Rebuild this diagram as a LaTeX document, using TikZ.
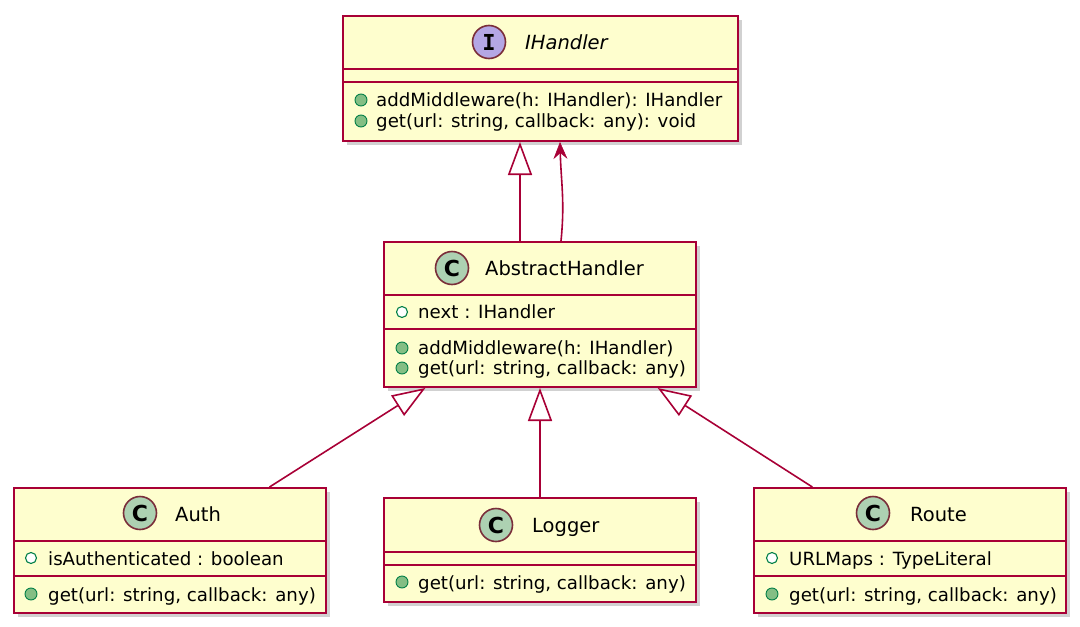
\documentclass[tikz,border=0pt]{standalone}
\usepackage{fontspec}
\setmainfont{DejaVu Sans}
\newfontfamily\spotfont{DejaVu Sans Mono}
\usetikzlibrary{arrows.meta,shadows,calc}
\definecolor{boxfill}{HTML}{FEFECE}
\definecolor{boxline}{HTML}{A80036}
\definecolor{spotline}{HTML}{7A2E3A}
\definecolor{cspotfill}{HTML}{ADD1B2}
\definecolor{ispotfill}{HTML}{B4A7E5}
\definecolor{pubfill}{HTML}{84BE84}
\definecolor{publine}{HTML}{038048}
\begin{document}
\begin{tikzpicture}[x=1pt,y=-1pt,
 umlbox/.style={draw=boxline, line width=2pt, fill=boxfill, inner sep=0pt, anchor=north west,
   drop shadow={shadow xshift=4pt, shadow yshift=-4pt, opacity=0.3, fill=black!60}},
 divider/.style={draw=boxline, line width=1.8pt},
 spot/.style={circle, draw=spotline, line width=1.6pt, minimum size=33pt, inner sep=0pt,
   font=\bfseries\fontsize{22}{22}\selectfont},
 ispot/.style={spot, font=\spotfont\bfseries\fontsize{22}{22}\selectfont},
 title/.style={anchor=base west, inner sep=0pt, font=\fontsize{19.5}{22}\selectfont},
 member/.style={anchor=base west, inner sep=0pt, font=\fontsize{18.2}{21}\selectfont},
 pub/.style={circle, draw=publine, fill=pubfill, line width=0.9pt, minimum size=12pt, inner sep=0pt},
 fld/.style={circle, draw=publine, fill=white, line width=1.1pt, minimum size=11pt, inner sep=0pt},
 inh/.style={draw=boxline, line width=1.6pt, -{Triangle[length=33pt,width=24pt,fill=white,line width=1.6pt]}},
 assoc/.style={draw=boxline, line width=1.6pt, -{Stealth[length=17pt,width=14pt,inset=6pt,line width=0.5pt,fill=boxline]}},
]
\useasboundingbox (0,0) rectangle (1080,627);

% boxes
\node[umlbox, minimum width=395pt, minimum height=125pt] (ih) at (342,15) {};
\node[umlbox, minimum width=312pt, minimum height=145pt] (ab) at (383,241) {};
\node[umlbox, minimum width=312pt, minimum height=125pt] (auth) at (13,487) {};
\node[umlbox, minimum width=312pt, minimum height=104pt] (log) at (383,497) {};
\node[umlbox, minimum width=312pt, minimum height=125pt] (route) at (753,487) {};

% dividers
\draw[divider] (ih.west |- 0,69) -- (ih.east |- 0,69);
\draw[divider] (ih.west |- 0,82) -- (ih.east |- 0,82);
\draw[divider] (ab.west |- 0,295) -- (ab.east |- 0,295);
\draw[divider] (ab.west |- 0,329) -- (ab.east |- 0,329);
\draw[divider] (auth.west |- 0,541) -- (auth.east |- 0,541);
\draw[divider] (auth.west |- 0,576) -- (auth.east |- 0,576);
\draw[divider] (log.west |- 0,552) -- (log.east |- 0,552);
\draw[divider] (log.west |- 0,565) -- (log.east |- 0,565);
\draw[divider] (route.west |- 0,541) -- (route.east |- 0,541);
\draw[divider] (route.west |- 0,576) -- (route.east |- 0,576);

% titles
\node[ispot, fill=ispotfill] (ihS) at (489,42) {I};
\node[title, font=\fontsize{19.5}{22}\selectfont\itshape] (ihT) at (525,49) {IHandler};
\node[spot, fill=cspotfill] (abS) at (452,268) {C};
\node[title] (abT) at (485,275) {AbstractHandler};
\node[spot, fill=cspotfill] (authS) at (140,513) {C};
\node[title] (authT) at (175,521) {Auth};
\node[spot, fill=cspotfill] (logS) at (496,525) {C};
\node[title] (logT) at (532,532) {Logger};
\node[spot, fill=cspotfill] (routeS) at (873,513) {C};
\node[title] (routeT) at (910,521) {Route};

% members
\node[pub] (ihM1d) at (361,100) {};
\node[member] (ihM1) at (376,106) {addMiddleware(h: IHandler): IHandler};
\node[pub] (ihM2d) at (361,121) {};
\node[member] (ihM2) at (376,127) {get(url: string, callback: any): void};

\node[fld] (abF1d) at (402,312) {};
\node[member] (abF1) at (418,318) {next : IHandler};
\node[pub] (abM1d) at (402,348) {};
\node[member] (abM1) at (418,354) {addMiddleware(h: IHandler)};
\node[pub] (abM2d) at (402,368) {};
\node[member] (abM2) at (418,374) {get(url: string, callback: any)};

\node[fld] (authF1d) at (31,558) {};
\node[member] (authF1) at (48,565) {isAuthenticated : boolean};
\node[pub] (authM1d) at (31,594) {};
\node[member] (authM1) at (48,601) {get(url: string, callback: any)};

\node[pub] (logM1d) at (402,582) {};
\node[member] (logM1) at (418,589) {get(url: string, callback: any)};

\node[fld] (routeF1d) at (772,558) {};
\node[member] (routeF1) at (789,565) {URLMaps : TypeLiteral};
\node[pub] (routeM1d) at (772,594) {};
\node[member] (routeM1) at (789,601) {get(url: string, callback: any)};

% connectors
\draw[inh] (ab.north -| 520,0) -- (ih.south -| 520,0);
\draw[assoc] (ab.north -| 561,0) .. controls +(4,-40) and +(1,40) .. (ih.south -| 560,0);
\draw[inh] ($(auth.north west)!0.817!(auth.north east)$) -- ($(ab.south west)!0.135!(ab.south east)$);
\draw[inh] (log.north) -- (log.north |- ab.south);
\draw[inh] ($(route.north west)!0.189!(route.north east)$) -- ($(ab.south west)!0.875!(ab.south east)$);
\end{tikzpicture}
\end{document}
